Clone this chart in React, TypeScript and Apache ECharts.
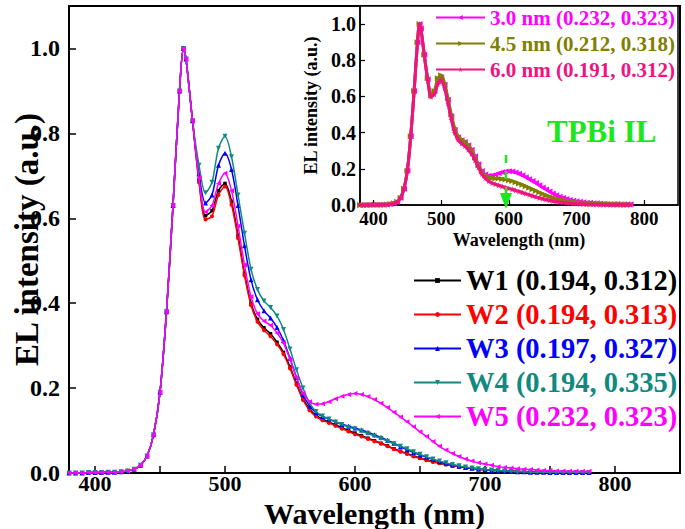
import React, { useEffect, useRef } from "react";
import * as echarts from "echarts";

// wavelength grid (nm)
const wavelengths = [
  380, 385, 390, 395, 400, 405, 410, 415, 420, 425, 430, 435, 440, 445, 450, 455, 460, 465, 468, 470, 475,
  480, 485, 490, 495, 500, 505, 510, 515, 520, 525, 530, 535, 540, 545, 550, 555, 560, 565, 570, 575,
  580, 585, 590, 595, 600, 605, 610, 615, 620, 625, 630, 635, 640, 645, 650, 655, 660, 665, 670, 675,
  680, 685, 690, 695, 700, 705, 710, 715, 720, 725, 730, 735, 740, 745, 750, 755, 760, 765, 770, 775, 780,
];

// shared blue rise (380–475 nm), identical for all devices
const riseCommon = [
  0.0, 0.0, 0.0, 0.001, 0.001, 0.001, 0.002, 0.002, 0.003, 0.005, 0.009, 0.018, 0.04, 0.09, 0.19, 0.38,
  0.63, 0.9, 1.0, 0.975, 0.83,
];

// 480–780 nm
const w1Tail = [
  0.69, 0.606, 0.618, 0.665, 0.682, 0.64, 0.56, 0.47, 0.4, 0.362, 0.342, 0.328, 0.308, 0.284, 0.25, 0.211,
  0.175, 0.151, 0.136, 0.127, 0.12, 0.113, 0.107, 0.1, 0.094, 0.088, 0.082, 0.076, 0.07, 0.064, 0.057,
  0.051, 0.046, 0.04, 0.035, 0.031, 0.027, 0.023, 0.02, 0.017, 0.015, 0.013, 0.011, 0.009, 0.008, 0.007,
  0.006, 0.005, 0.004, 0.004, 0.003, 0.003, 0.002, 0.002, 0.002, 0.001, 0.001, 0.001, 0.001, 0.001, 0.001,
];
const w2Tail = [
  0.685, 0.597, 0.605, 0.655, 0.675, 0.632, 0.553, 0.465, 0.395, 0.356, 0.336, 0.322, 0.303, 0.28, 0.246,
  0.208, 0.172, 0.148, 0.133, 0.124, 0.118, 0.111, 0.104, 0.098, 0.091, 0.086, 0.08, 0.075, 0.069, 0.063,
  0.056, 0.05, 0.045, 0.039, 0.035, 0.03, 0.026, 0.023, 0.02, 0.017, 0.015, 0.013, 0.011, 0.009, 0.008,
  0.007, 0.006, 0.005, 0.004, 0.004, 0.003, 0.003, 0.002, 0.002, 0.002, 0.001, 0.001, 0.001, 0.001, 0.001,
  0.001,
];
const w3Tail = [
  0.705, 0.636, 0.655, 0.725, 0.753, 0.715, 0.63, 0.535, 0.455, 0.408, 0.382, 0.365, 0.343, 0.312, 0.27,
  0.225, 0.185, 0.158, 0.142, 0.133, 0.127, 0.121, 0.115, 0.11, 0.106, 0.101, 0.096, 0.09, 0.084, 0.077,
  0.07, 0.062, 0.055, 0.048, 0.042, 0.037, 0.032, 0.027, 0.023, 0.019, 0.016, 0.013, 0.011, 0.009, 0.008,
  0.006, 0.005, 0.004, 0.004, 0.003, 0.003, 0.002, 0.002, 0.002, 0.001, 0.001, 0.001, 0.001, 0.001, 0.001,
  0.001,
];
const w4Tail = [
  0.725, 0.66, 0.685, 0.765, 0.793, 0.745, 0.655, 0.565, 0.48, 0.432, 0.405, 0.39, 0.37, 0.338, 0.292,
  0.243, 0.2, 0.165, 0.145, 0.134, 0.127, 0.12, 0.114, 0.108, 0.104, 0.099, 0.093, 0.087, 0.081, 0.075,
  0.069, 0.063, 0.057, 0.05, 0.044, 0.038, 0.033, 0.028, 0.024, 0.02, 0.017, 0.014, 0.012, 0.01, 0.008,
  0.007, 0.006, 0.005, 0.004, 0.003, 0.003, 0.002, 0.002, 0.002, 0.001, 0.001, 0.001, 0.001, 0.001, 0.001,
  0.001,
];
const w5Tail = [
  0.695, 0.615, 0.63, 0.682, 0.706, 0.665, 0.582, 0.49, 0.415, 0.375, 0.358, 0.348, 0.33, 0.306, 0.268,
  0.225, 0.188, 0.168, 0.162, 0.163, 0.168, 0.175, 0.181, 0.185, 0.187, 0.185, 0.18, 0.173, 0.164, 0.154,
  0.143, 0.132, 0.121, 0.109, 0.097, 0.086, 0.074, 0.063, 0.054, 0.046, 0.039, 0.033, 0.028, 0.024, 0.021,
  0.018, 0.015, 0.013, 0.012, 0.01, 0.009, 0.008, 0.007, 0.006, 0.006, 0.005, 0.005, 0.004, 0.004, 0.004,
  0.004,
];
// inset: 4.5 nm and 6.0 nm TPBi interlayer (3.0 nm is device W5)
const il45Tail = [
  0.7, 0.605, 0.63, 0.7, 0.717, 0.675, 0.59, 0.5, 0.425, 0.382, 0.362, 0.35, 0.33, 0.302, 0.262, 0.22,
  0.185, 0.163, 0.153, 0.149, 0.147, 0.146, 0.144, 0.141, 0.137, 0.132, 0.126, 0.119, 0.112, 0.104, 0.096,
  0.087, 0.079, 0.07, 0.062, 0.054, 0.047, 0.041, 0.035, 0.03, 0.026, 0.022, 0.019, 0.016, 0.014, 0.012,
  0.01, 0.009, 0.008, 0.007, 0.006, 0.005, 0.005, 0.004, 0.004, 0.003, 0.003, 0.003, 0.002, 0.002, 0.002,
];
const il60Tail = [
  0.69, 0.598, 0.612, 0.668, 0.689, 0.645, 0.562, 0.472, 0.4, 0.36, 0.34, 0.325, 0.306, 0.282, 0.247,
  0.208, 0.172, 0.148, 0.132, 0.122, 0.115, 0.109, 0.103, 0.097, 0.092, 0.087, 0.081, 0.075, 0.069, 0.063,
  0.057, 0.051, 0.045, 0.04, 0.035, 0.03, 0.026, 0.022, 0.019, 0.016, 0.014, 0.012, 0.01, 0.008, 0.007,
  0.006, 0.005, 0.004, 0.004, 0.003, 0.003, 0.002, 0.002, 0.002, 0.001, 0.001, 0.001, 0.001, 0.001, 0.001,
  0.001,
];

const mainLabels = [
  "W1 (0.194, 0.312)",
  "W2 (0.194, 0.313)",
  "W3 (0.197, 0.327)",
  "W4 (0.194, 0.335)",
  "W5 (0.232, 0.323)",
];
const insetLabels = ["3.0 nm (0.232, 0.323)", "4.5 nm (0.212, 0.318)", "6.0 nm (0.191, 0.312)"];
const xTicks = [400, 450, 500, 550, 600, 650, 700, 750, 800];
const xLabels = [400, 500, 600, 700, 800];
const insetTicks = [400, 500, 600, 700, 800];
const yLabels = [0, 0.2, 0.4, 0.6, 0.8, 1.0];

const FONT = "'Liberation Serif', 'Times New Roman', serif";
const STAR = "path://M50,0 L61,35 L98,35 L68,57 L79,91 L50,70 L21,91 L32,57 L2,35 L39,35 Z";

function pairs(vals: number[]) {
  return wavelengths.map((w, i) => [w, vals[i]]);
}

export default function App() {
  const ref = useRef<HTMLDivElement>(null);
  useEffect(() => {
    if (!ref.current) return;
    const chart = echarts.init(ref.current, undefined, { renderer: "svg" });
    const mainColors = ["#000000", "#FF0000", "#0000FF", "#108A80", "#FF00FF"];
    const mainSym = [
      { symbol: "rect", size: 3.5, rot: 0 },
      { symbol: "circle", size: 4, rot: 0 },
      { symbol: "triangle", size: 5, rot: 0 },
      { symbol: "triangle", size: 5, rot: 180 },
      { symbol: "triangle", size: 5, rot: 90 },
    ];
    const mainVals = [w1Tail, w2Tail, w3Tail, w4Tail, w5Tail].map((t) => riseCommon.concat(t));
    const insetColors = ["#FF00FF", "#808000", "#F0137F"];
    const insetSym = [
      { symbol: "triangle", size: 6, rot: 90 },
      { symbol: "triangle", size: 6, rot: -90 },
      { symbol: STAR, size: 6, rot: 0 },
    ];
    const insetVals = [w5Tail, il45Tail, il60Tail].map((t) => riseCommon.concat(t));

    const axisLineStyle = { lineStyle: { color: "#000", width: 2 } };
    const boldText = { fontFamily: FONT, fontWeight: "bold" as const, color: "#000" };

    const series: any[] = [];
    mainVals.forEach((v, i) => {
      series.push({
        name: mainLabels[i],
        type: "line",
        xAxisIndex: 0,
        yAxisIndex: 0,
        data: pairs(v),
        smooth: 0.3,
        symbol: mainSym[i].symbol,
        symbolSize: mainSym[i].size,
        symbolRotate: mainSym[i].rot,
        showAllSymbol: true,
        color: mainColors[i],
        lineStyle: { width: 1.5, color: mainColors[i] },
        itemStyle: { color: mainColors[i] },
        z: 3 + i,
      });
    });
    insetVals.forEach((v, i) => {
      series.push({
        name: insetLabels[i],
        type: "line",
        xAxisIndex: 1,
        yAxisIndex: 1,
        data: pairs(v),
        smooth: 0.3,
        symbol: insetSym[i].symbol,
        symbolSize: insetSym[i].size,
        symbolRotate: insetSym[i].rot,
        showAllSymbol: true,
        color: insetColors[i],
        lineStyle: { width: 3, color: insetColors[i] },
        itemStyle: { color: insetColors[i] },
        z: 10 + i,
      });
    });

    chart.setOption({
      animation: false,
      backgroundColor: "#fff",
      grid: [
        { left: 69, top: 6, right: 5, bottom: 56, containLabel: false, outerBoundsMode: "none", show: true, borderColor: "#000", borderWidth: 2, backgroundColor: "transparent", z: 0 },
        { left: 360, top: 6, right: 7, bottom: 324, containLabel: false, outerBoundsMode: "none", show: true, borderColor: "#000", borderWidth: 1.5, backgroundColor: "#fff", z: 8 },
      ],
      xAxis: [
        {
          type: "value",
          gridIndex: 0,
          min: 380,
          max: 850,
          axisLine: axisLineStyle,
          axisTick: { inside: true, length: 7, customValues: xTicks, lineStyle: { width: 1.5, color: "#000" } },
          axisLabel: { customValues: xLabels, ...boldText, fontSize: 22, lineHeight: 19, margin: 1 },
          splitLine: { show: false },
          name: "Wavelength (nm)",
          nameLocation: "middle",
          nameGap: 25,
          nameMoveOverlap: false,
          nameTextStyle: { ...boldText, fontSize: 30, lineHeight: 30, verticalAlign: "top" },
        },
        {
          type: "value",
          gridIndex: 1,
          min: 380,
          max: 850,
          axisLine: { lineStyle: { color: "#000", width: 1.5 } },
          axisTick: { inside: true, length: 5, customValues: insetTicks, lineStyle: { width: 1.2, color: "#000" } },
          axisLabel: { customValues: insetTicks, ...boldText, fontSize: 19, margin: 4 },
          splitLine: { show: false },
          name: "Wavelength (nm)",
          nameLocation: "middle",
          nameGap: 26,
          nameTextStyle: { ...boldText, fontSize: 18, verticalAlign: "top" },
          z: 9,
        },
      ],
      yAxis: [
        {
          type: "value",
          gridIndex: 0,
          min: 0,
          max: 1.1,
          interval: 0.2,
          axisLine: axisLineStyle,
          axisTick: { inside: true, length: 7, customValues: yLabels, lineStyle: { width: 1.5, color: "#000" } },
          axisLabel: { customValues: yLabels, ...boldText, fontSize: 24, margin: 9, formatter: (v: number) => v.toFixed(1) },
          splitLine: { show: false },
          name: "EL intensity (a.u.)",
          nameLocation: "middle",
          nameGap: 26,
          nameMoveOverlap: false,
          nameTextStyle: { ...boldText, fontSize: 33 },
        },
        {
          type: "value",
          gridIndex: 1,
          min: 0,
          max: 1.1,
          interval: 0.2,
          axisLine: { lineStyle: { color: "#000", width: 1.5 } },
          axisTick: { inside: true, length: 5, customValues: yLabels, lineStyle: { width: 1.2, color: "#000" } },
          axisLabel: { customValues: yLabels, ...boldText, fontSize: 20, margin: 4, formatter: (v: number) => v.toFixed(1) },
          splitLine: { show: false },
          name: "EL intensity (a.u.)",
          nameLocation: "middle",
          nameGap: 40,
          nameTextStyle: { ...boldText, fontSize: 18 },
          z: 9,
        },
      ],
      legend: [
        {
          data: mainLabels.map((n, i) => ({ name: n, textStyle: { color: mainColors[i] } })),
          orient: "vertical",
          left: 408,
          top: 261,
          itemWidth: 47,
          itemHeight: 6,
          itemGap: 5,
          textStyle: { fontFamily: FONT, fontWeight: "bold", fontSize: 28.5, lineHeight: 28 },
        },
        {
          data: insetLabels.map((n, i) => ({ name: n, textStyle: { color: insetColors[i] } })),
          orient: "vertical",
          left: 430,
          top: 2,
          itemWidth: 49,
          itemHeight: 6,
          itemGap: 5,
          textStyle: { fontFamily: FONT, fontWeight: "bold", fontSize: 21, lineHeight: 21 },
          z: 20,
        },
      ],
      graphic: [
        {
          type: "text",
          left: 547,
          top: 116,
          z: 30,
          style: { text: "TPBi IL", fill: "#1EE61E", font: `bold 31px ${FONT}` },
        },
        {
          type: "line",
          z: 30,
          shape: { x1: 506, y1: 155, x2: 506, y2: 194 },
          style: { stroke: "#1EE61E", lineWidth: 2.5, lineDash: [8, 8] },
        },
        {
          type: "polygon",
          z: 30,
          shape: { points: [[500, 193], [512, 193], [506, 209]] },
          style: { fill: "#1EE61E" },
        },
      ],
      series,
    });
    return () => chart.dispose();
  }, []);
  return <div ref={ref} style={{ position: "fixed", left: 0, top: 0, width: 685, height: 529 }} />;
}
